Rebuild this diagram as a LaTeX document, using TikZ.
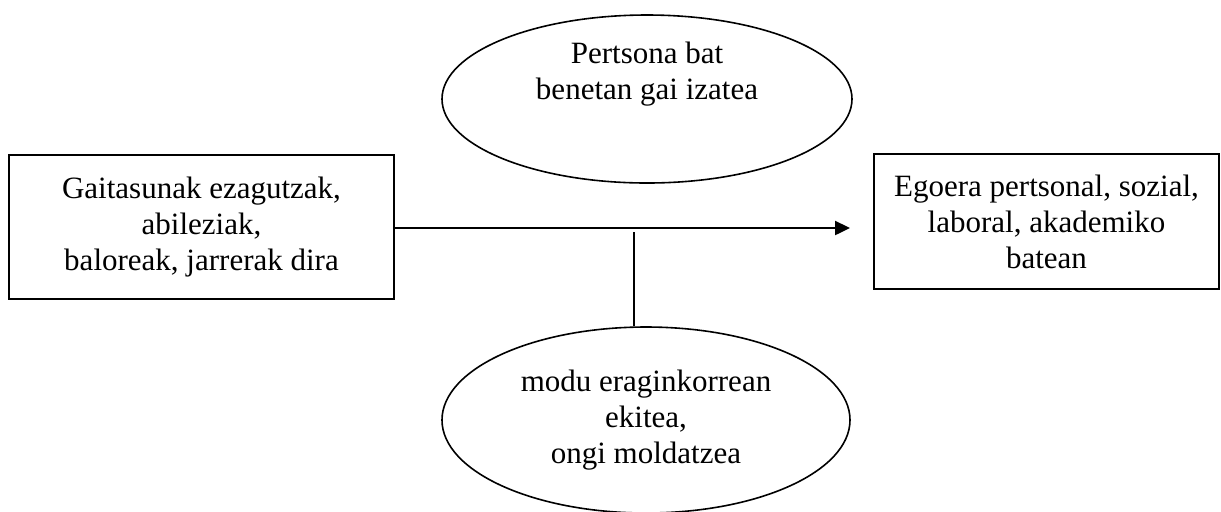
\documentclass[tikz,border=0pt]{standalone}
\usepackage{fontspec}
\setmainfont{Liberation Serif}
\usetikzlibrary{shapes.geometric,arrows.meta}

\begin{document}
\begin{tikzpicture}[x=0.5pt,y=-0.5pt,
        every node/.style={font=\fontsize{15.5}{18}\selectfont,align=center,inner sep=0pt},
        kutxa/.style={draw,line width=0.9pt},
        obalo/.style={draw,ellipse,line width=0.8pt}]
        \useasboundingbox (0,0) rectangle (1221,511);
        \clip (0,0) rectangle (1221,511);
        % Draw the two boxes
        \node[kutxa,minimum width=192.5pt,minimum height=72pt] (gaitasun) at (201.5,227) {Gaitasunak ezagutzak,\\abileziak,\\baloreak, jarrerak dira};
        \node[kutxa,minimum width=172.5pt,minimum height=67.5pt] (egoera) at (1046.5,221.5) {Egoera pertsonal, sozial,\\laboral, akademiko\\batean};
        % Draw the two ellipses
        \node[obalo,minimum width=205pt,minimum height=84pt] (gai) at (647,99) {Pertsona bat\\benetan gai izatea\\[10pt]};
        \node[obalo,minimum width=204pt,minimum height=93pt] (ekite) at (646,420) {modu eraginkorrean\\ekitea,\\ongi moldatzea};
        % Arrow and link line
        \coordinate (gezia) at (850,228);
        \coordinate (lotura) at (634,232);
        \draw[line width=1.2pt,-{Triangle[length=7.5pt,width=7pt]}] (gaitasun.east |- gezia) -- (gezia);
        \draw[line width=0.8pt] (lotura) -- (lotura |- ekite.north);
    \end{tikzpicture}
\end{document}
